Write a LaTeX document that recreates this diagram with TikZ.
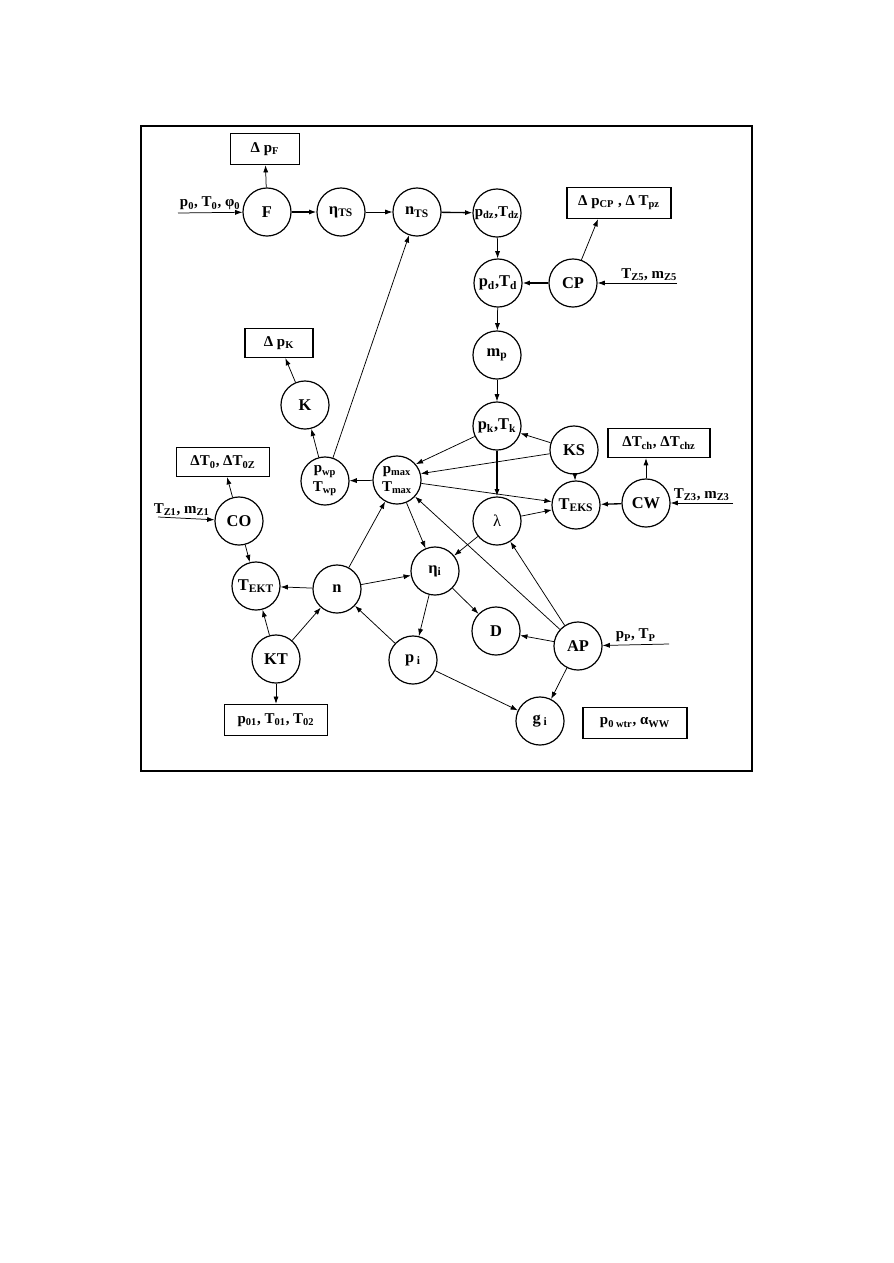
\documentclass[tikz,border=0pt]{standalone}
\usepackage{fontspec}
\setmainfont{Liberation Serif}
\usetikzlibrary{arrows.meta,calc}

\begin{document}
\begin{tikzpicture}[
    x=0.2352mm, y=-0.2352mm,
    var/.style={draw, circle, line width=0.8pt, minimum size=11.3mm, inner sep=0pt, align=center, font=\bfseries\fontsize{11}{10}\selectfont},
    outbox/.style={draw, line width=0.9pt, minimum height=7.3mm, inner sep=2pt, font=\bfseries\fontsize{10}{11}\selectfont},
    inlabel/.style={font=\bfseries\fontsize{10}{11}\selectfont, inner sep=1.5pt},
    link/.style={-{Latex[length=1.7mm,width=1.2mm]}, line width=0.5pt},
    heavy/.style={link, line width=0.9pt}
]
\useasboundingbox (0,0) rectangle (893,1263);
\draw[line width=1pt] (141,126) rectangle (752,771);

\node[var] (F) at (267,212) {F};
\node[var] (etaTS) at (341,212) {η\textsubscript{TS}};
\node[var] (nTS) at (417,212) {n\textsubscript{TS}};
\node[var, font=\bfseries\fontsize{10}{10}\selectfont] (pdz) at (497,213) {p\textsubscript{dz},T\textsubscript{dz}};
\node[var] (pd) at (498,283) {p\textsubscript{d},T\textsubscript{d}};
\node[var] (CP) at (573,283) {CP};
\node[var] (mp) at (497,355) {m\textsubscript{p}};
\node[var] (pk) at (497,426) {p\textsubscript{k},T\textsubscript{k}};
\node[var] (KS) at (574,450) {KS};
\node[var] (TEKS) at (576,505) {T\textsubscript{EKS}};
\node[var] (CW) at (646,503) {CW};
\node[var, font=\fontsize{11}{10}\selectfont] (lambda) at (497,521) {λ};
\node[var, font=\bfseries\fontsize{10}{12.5}\selectfont] (pmax) at (397,480) {p\textsubscript{max}\\T\textsubscript{max}};
\node[var, font=\bfseries\fontsize{10}{12.5}\selectfont] (pwp) at (325,481) {p\textsubscript{wp}\\T\textsubscript{wp}};
\node[var] (K) at (305,405) {K};
\node[var] (CO) at (239,521) {CO};
\node[var] (TEKT) at (256,586) {T\textsubscript{EKT}};
\node[var] (n) at (337,589) {n};
\node[var] (etai) at (435,571) {η\textsubscript{i}};
\node[var] (KT) at (276,659) {KT};
\node[var] (pi) at (413,660) {p\,\textsubscript{i}};
\node[var] (D) at (496,631) {D};
\node[var] (AP) at (578,646) {AP};
\node[var] (gi) at (540,721) {g\,\textsubscript{i}};

\node[outbox, minimum width=16.2mm] (pFbox) at (265,149) {Δ p\textsubscript{F}};
\node[outbox, minimum width=24.5mm] (pCPbox) at (619,203) {Δ p\textsubscript{CP} , Δ T\textsubscript{pz}};
\node[outbox, minimum width=16mm, minimum height=6.8mm] (pKbox) at (279,343) {Δ p\textsubscript{K}};
\node[outbox, minimum width=22mm, minimum height=6.8mm] (T0box) at (223,462) {ΔT\textsubscript{0}, ΔT\textsubscript{0Z}};
\node[outbox, minimum width=24mm, minimum height=6.8mm] (Tchbox) at (659,443) {ΔT\textsubscript{ch}, ΔT\textsubscript{chz}};
\node[outbox, minimum width=24.2mm] (p01box) at (276,720) {p\textsubscript{01}, T\textsubscript{01}, T\textsubscript{02}};
\node[outbox, minimum width=24.5mm] (wtrbox) at (635,723) {p\textsubscript{0 wtr}, α\textsubscript{WW}};

\coordinate (inF) at (178,213);
\coordinate (inCP) at (677,283);
\coordinate (inCW) at (733,503);
\coordinate (inCO) at (158,517);
\coordinate (inAP) at (669,644);

\draw[link] (inF) -- node[inlabel, above] {p\textsubscript{0}, T\textsubscript{0}, φ\textsubscript{0}} (F);
\draw[link] (inCP) -- node[inlabel, above, pos=0.35] {T\textsubscript{Z5}, m\textsubscript{Z5}} (CP);
\draw[link] (inCW) -- node[inlabel, above] {T\textsubscript{Z3}, m\textsubscript{Z3}} (CW);
\draw[link] (inCO) -- node[inlabel, above, pos=0.42] {T\textsubscript{Z1}, m\textsubscript{Z1}} (CO);
\draw[link] (inAP) -- node[inlabel, above] {p\textsubscript{P}, T\textsubscript{P}} (AP);

\draw[link] (F) -- (pFbox);
\draw[heavy] (F) -- (etaTS);
\draw[link] (etaTS) -- (nTS);
\draw[heavy] (nTS) -- (pdz);
\draw[link] (pdz) -- (pd);
\draw[heavy] (CP) -- (pd);
\draw[link] (CP.70) -- ($(pCPbox.south)+(-21,0)$);
\draw[link] (pd) -- (mp);
\draw[link] (mp) -- (pk);
\draw[link] (KS) -- (pk);
\draw[link] (pk) -- (pmax.40);
\draw[link] (KS) -- (pmax.15);
\draw[link] (KS) -- (TEKS);
\draw[heavy] (pk) -- (lambda);
\draw[link] (pmax) -- (TEKS);
\draw[link] (lambda) -- (TEKS);
\draw[heavy] (CW) -- (TEKS);
\draw[link] (CW) -- (CW |- Tchbox.south);
\draw[link] (pmax) -- (pwp);
\draw[link] (pwp) -- (K);
\draw[link] (K) -- (pKbox);
\draw[link] (pwp) -- (nTS);
\draw[link] (CO) -- (T0box);
\draw[link] (CO) -- (TEKT);
\draw[link] (n) -- (TEKT);
\draw[link] (KT) -- (TEKT);
\draw[link] (KT) -- (n);
\draw[link] (KT) -- (p01box);
\draw[link] (n) -- (pmax);
\draw[link] (n) -- (etai);
\draw[link] (pmax) -- (etai);
\draw[link] (lambda) -- (etai);
\draw[link] (etai) -- (pi);
\draw[link] (etai) -- (D);
\draw[link] (pi) -- (n);
\draw[link] (pi) -- (gi);
\draw[link] (AP) -- (D);
\draw[link] (AP) -- (lambda);
\draw[link] (AP) -- (pmax);
\draw[link] (AP) -- (gi);
\end{tikzpicture}
\end{document}
